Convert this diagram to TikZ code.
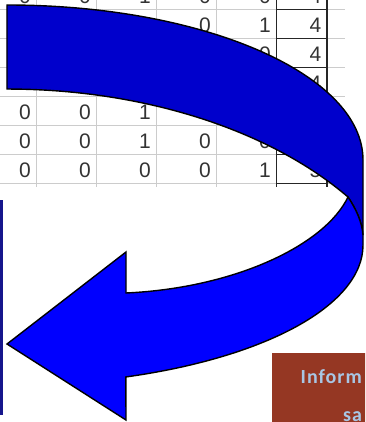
\documentclass[tikz,border=0pt]{standalone}
\usepackage{fontspec}
\setmainfont{Liberation Sans}
\newfontfamily\boxfont[LetterSpace=5]{Carlito}
\usepackage{xcolor}
\usetikzlibrary{calc}

\definecolor{backblue}{RGB}{0,0,204}
\definecolor{frontblue}{RGB}{0,0,255}
\definecolor{barnavy}{RGB}{22,22,140}
\definecolor{brickred}{RGB}{149,55,35}
\definecolor{paleblue}{RGB}{168,198,228}

\begin{document}
\begin{tikzpicture}[x=1pt, y=-1pt, font=\fontsize{21}{21}\selectfont,
  gridline/.style={draw=black!20, line width=1.2pt},
  boxline/.style={draw=black!85, line width=1.3pt},
  cell/.style={anchor=base east, inner sep=0pt, text=black!80},
  band/.style={draw=black, line width=1.4pt, line join=miter}]

  \useasboundingbox (0,0) rectangle (365,422);
  \clip (0,0) rectangle (365,422);

  % Spreadsheet grid (gray cells, framed last column)
  \foreach \y in {9.3, 38.3, 67.3, 96.3, 125.3, 154.3, 183.3} {
    \draw[gridline] (0,\y) -- (276.5,\y);
    \draw[gridline] (327,\y) -- (345,\y);
    \draw[boxline] (276.5,\y) -- (327,\y);
  }
  \foreach \x in {36.5, 96.5, 156.5, 216.5}
    \draw[gridline] (\x,0) -- (\x,187);
  \foreach \x in {276.5, 327}
    \draw[boxline] (\x,0) -- (\x,187);

  % Cell values (row/column/value)
  \foreach \r/\c/\v in {0/1/0, 0/2/0, 0/3/1, 0/4/0, 0/5/0,
                        1/3/1, 1/4/0, 1/5/1, 2/5/0,
                        4/1/0, 4/2/0, 4/3/1, 4/4/0,
                        5/1/0, 5/2/0, 5/3/1, 5/4/0, 5/5/0,
                        6/1/0, 6/2/0, 6/3/0, 6/4/0, 6/5/1} {
    \node[cell] (v\r\c) at ({60*\c-29}, {3.3+29*\r}) {\v};
  }
  \foreach \r/\v in {0/4, 1/4, 2/4, 3/4, 6/5} {
    \node[cell] (s\r) at (321.5, {3.3+29*\r}) {\v};
  }

  % Back of the ribbon (darker)
  \filldraw[band, fill=backblue] (7,5)
    arc[start angle=270, end angle=360, x radius=356, y radius=155]
    -- (363,235) .. controls (362,222) and (356,209) .. (348,197)
    arc[start angle=324.1, end angle=270, x radius=421, y radius=261]
    -- cycle;

  % Front of the ribbon with the arrow head
  \filldraw[band, fill=frontblue] (348,197)
    .. controls (356,209) and (362,222) .. (363,235) -- (363,245)
    arc[start angle=0, end angle=70.5, x radius=356, y radius=140]
    -- (126,420) -- (7,344) -- (126,252) -- (126,293)
    .. controls (235,288) and (325,245) .. (348,197) -- cycle;

  % Left bar
  \fill[barnavy] (0,200) rectangle (3,415);

  % Brown box, bottom right
  \fill[brickred] (272,353) rectangle (370,425);
  \node[anchor=base west, inner sep=0pt, text=paleblue,
        font=\boxfont\bfseries\fontsize{20}{20}\selectfont] (inform) at (300.5,383.5) {Inform};
  \node[anchor=base west, inner sep=0pt, text=paleblue,
        font=\boxfont\bfseries\fontsize{20}{20}\selectfont] (sat) at (343,421) {sa};
\end{tikzpicture}
\end{document}
